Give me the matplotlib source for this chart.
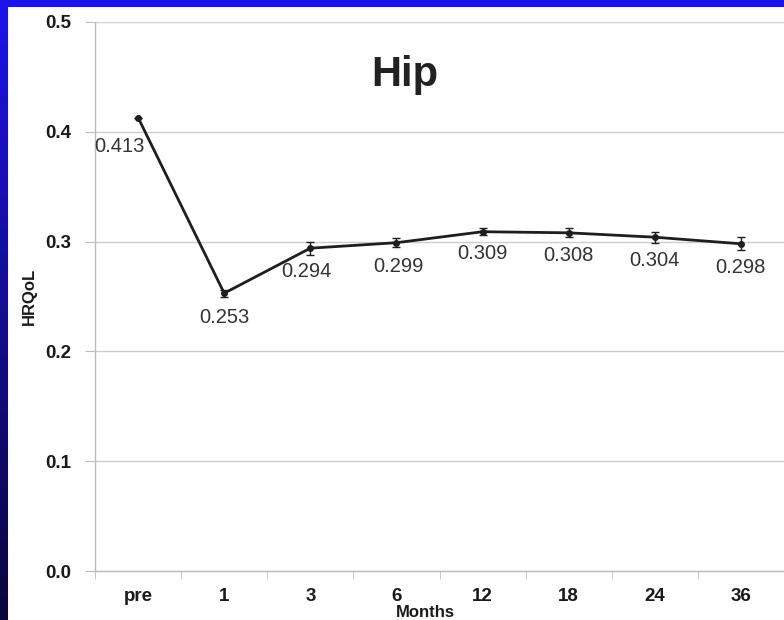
import numpy as np
import matplotlib.pyplot as plt
from matplotlib.patches import Rectangle

# HRQoL over follow-up, hip patients
months = ['pre', '1', '3', '6', '12', '18', '24', '36']
hrqol = [0.413, 0.253, 0.294, 0.299, 0.309, 0.308, 0.304, 0.298]
err = [0.0, 0.003, 0.006, 0.004, 0.003, 0.004, 0.005, 0.006]

# label offsets (pixels) relative to each point
label_dx = [-19, 0, -4, 2, 0, 0, 0, 0]
label_dy = [-29, -24, -23, -24, -22, -23, -23, -24]

W, H = 784, 620
fig = plt.figure(figsize=(W / 100, H / 100), dpi=100, facecolor='white')

# slide-style frame: blue top strip, left strip fading to navy
bg = fig.add_axes([0, 0, 1, 1], zorder=-10)
bg.set_xlim(0, W)
bg.set_ylim(H, 0)
bg.axis('off')
top = np.array([28, 20, 232]) / 255
bottom = np.array([9, 6, 58]) / 255
t = np.linspace(0, 1, 256)[:, None]
grad = (top[None, :] * (1 - t) + bottom[None, :] * t)[:, None, :]
bg.imshow(grad, extent=[0, 8, H, 0], aspect='auto', interpolation='bilinear')
bg.add_patch(Rectangle((0, 0), W, 7, color=top, lw=0))

ax = fig.add_axes([95 / W, 49 / H, 689 / W, 549 / H])
x = np.arange(len(months))

ax.errorbar(x, hrqol, yerr=err, color='#1e1e1e', lw=2, marker='o', ms=4,
            elinewidth=1, capsize=3, capthick=1, zorder=3)

for xi, yi, dx, dy in zip(x, hrqol, label_dx, label_dy):
    ax.annotate('%.3f' % yi, (xi, yi), xytext=(dx, dy), textcoords='offset pixels',
                ha='center', va='center', fontsize=14.5, color='#333333',
                family='Liberation Sans')

ax.text(3.1, 0.452, 'Hip', ha='center', va='center', fontsize=30,
        fontweight='bold', color='#222222', family='Liberation Sans')

ax.set_xlim(-0.5, len(months) - 0.5)
ax.set_ylim(0, 0.5)
ax.set_yticks(np.arange(0, 0.51, 0.1))
ax.set_yticklabels(['%.1f' % v for v in np.arange(0, 0.51, 0.1)])
ax.set_xticks(x)
ax.set_xticklabels(months)
ax.set_xticks(np.arange(-0.5, len(months), 1), minor=True)

ax.grid(axis='y', color='#cccccc', lw=1)
ax.set_axisbelow(True)
for s in ['top', 'right']:
    ax.spines[s].set_visible(False)
for s in ['left', 'bottom']:
    ax.spines[s].set_color('#bbbbbb')
    ax.spines[s].set_linewidth(1)

ax.tick_params(axis='x', which='major', length=0, pad=12)
ax.tick_params(axis='x', which='minor', length=6, color='#bbbbbb')
ax.tick_params(axis='y', length=7, color='#bbbbbb', pad=10)
for lab in ax.get_xticklabels() + ax.get_yticklabels():
    lab.set_fontweight('bold')
    lab.set_fontsize(13.5)
    lab.set_family('Liberation Sans')
    lab.set_color('#1a1a1a')

ax.set_xlabel('Months', fontsize=12, fontweight='bold', family='Liberation Sans',
              color='#1a1a1a')
ax.xaxis.set_label_coords((425 - 95) / 689, -0.062)
ax.set_ylabel('HRQoL', fontsize=12, fontweight='bold', family='Liberation Sans',
              color='#1a1a1a', labelpad=6)

fig.savefig('out.png', dpi=100, facecolor='white')
